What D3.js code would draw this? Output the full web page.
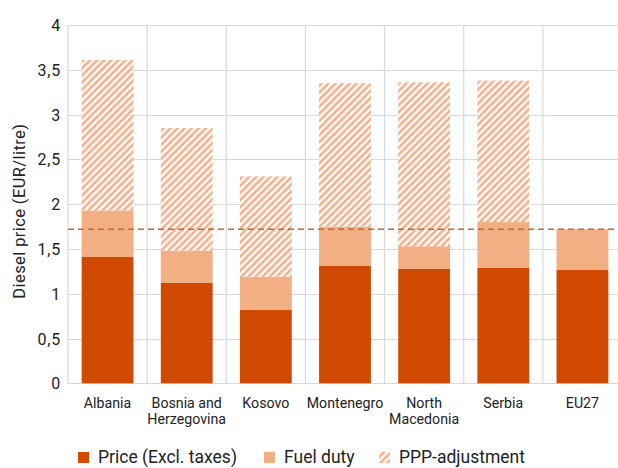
<!DOCTYPE html>
<html>
<head>
<meta charset="utf-8">
<script src="https://cdn.jsdelivr.net/npm/d3@7"></script>
<style>
  html, body { margin: 0; padding: 0; background: #fff; }
  svg { display: block; font-family: Roboto, "Noto Sans", sans-serif; }
</style>
</head>
<body>
<svg id="chart" width="618" height="468"></svg>
<script>
// Diesel price components per country (EUR/litre)
const countries = ["Albania", "Bosnia and Herzegovina", "Kosovo", "Montenegro", "North Macedonia", "Serbia", "EU27"];
const countryLines = [["Albania"], ["Bosnia and", "Herzegovina"], ["Kosovo"], ["Montenegro"], ["North", "Macedonia"], ["Serbia"], ["EU27"]];
const priceExclTaxes = [1.41, 1.12, 0.82, 1.31, 1.28, 1.29, 1.27];
const fuelDuty      = [0.52, 0.36, 0.37, 0.44, 0.25, 0.51, 0.45];
const pppAdjustment = [1.68, 1.37, 1.12, 1.60, 1.83, 1.58, 0.00];
const eu27Reference = 1.72;
const yTicks = [0, 0.5, 1, 1.5, 2, 2.5, 3, 3.5, 4];
const seriesNames = ["Price (Excl. taxes)", "Fuel duty", "PPP-adjustment"];

const colPrice = "#D04A02";
const colDuty = "#F2AF84";
const colHatch = "#F4B08A";

const svg = d3.select("#chart");
const plotLeft = 68, plotRight = 622, plotTop = 25, plotBottom = 383.3;

const x = d3.scaleBand().domain(countries).range([plotLeft, plotRight])
  .paddingInner(0.345).paddingOuter(0.1725);
const y = d3.scaleLinear().domain([0, 4]).range([plotBottom, plotTop]);

// hatch pattern for the PPP adjustment
const defs = svg.append("defs");
const pat = defs.append("pattern").attr("id", "hatch")
  .attr("patternUnits", "userSpaceOnUse").attr("width", 5).attr("height", 5)
  .attr("patternTransform", "rotate(45)");
pat.append("rect").attr("width", 5).attr("height", 5).attr("fill", "#fff");
pat.append("rect").attr("x", 0).attr("y", 0).attr("width", 2.6).attr("height", 5).attr("fill", colHatch);

// gridlines
const grid = svg.append("g");
grid.selectAll("line.h").data(yTicks).join("line")
  .attr("x1", plotLeft).attr("x2", plotRight)
  .attr("y1", d => Math.round(y(d)) + 0.5).attr("y2", d => Math.round(y(d)) + 0.5)
  .attr("stroke", "#d9d9d9").attr("stroke-width", 1.2);
const step = x.step();
const bounds = d3.range(countries.length + 1).map(i => plotLeft + i * step);
grid.selectAll("line.v").data(bounds).join("line")
  .attr("x1", d => d).attr("x2", d => d)
  .attr("y1", plotTop).attr("y2", plotBottom)
  .attr("stroke", "#d9d9d9").attr("stroke-width", 1.2);

// stacked bars
const rows = countries.map((c, i) => ({ c, p: priceExclTaxes[i], d: fuelDuty[i], a: pppAdjustment[i] }));
const stack = d3.stack().keys(["p", "d", "a"])(rows);
const fills = [colPrice, colDuty, "url(#hatch)"];
svg.append("g").selectAll("g").data(stack).join("g")
  .attr("fill", (s, k) => fills[k])
  .selectAll("rect").data(s => s).join("rect")
  .attr("x", d => x(d.data.c))
  .attr("width", x.bandwidth())
  .attr("y", d => y(d[1]))
  .attr("height", d => Math.max(0, y(d[0]) - y(d[1])));

// EU27 reference line
svg.append("line")
  .attr("x1", plotLeft).attr("x2", plotRight)
  .attr("y1", y(eu27Reference)).attr("y2", y(eu27Reference))
  .attr("stroke", "#C8672E").attr("stroke-width", 1.4)
  .attr("stroke-dasharray", "6,4");

// y-axis tick labels
const yAxis = d3.axisLeft(y).tickValues(yTicks).tickSize(0).tickPadding(0)
  .tickFormat(d => String(d).replace(".", ","));
const ya = svg.append("g").attr("transform", `translate(61,0)`).call(yAxis);
ya.select(".domain").remove();
ya.selectAll("text").attr("font-size", 16).attr("fill", "#222")
  .attr("letter-spacing", 0.8)
  .attr("font-family", "Roboto, sans-serif").attr("dy", "0.35em");

// y-axis title
svg.append("text")
  .attr("transform", `translate(25,${(plotTop + plotBottom) / 2 + 7}) rotate(-90)`)
  .attr("text-anchor", "middle").attr("font-size", 16.5).attr("fill", "#222")
  .attr("letter-spacing", 0.4)
  .text("Diesel price (EUR/litre)");

// category labels
const xl = svg.append("g");
countries.forEach((c, i) => {
  const cx = x(c) + x.bandwidth() / 2;
  countryLines[i].forEach((ln, j) => {
    xl.append("text")
      .attr("x", cx).attr("y", 408 + j * 15.5)
      .attr("text-anchor", "middle").attr("font-size", 14.2).attr("fill", "#222")
      .text(ln);
  });
});

// legend
const legendX = [78, 264, 379];
const lg = svg.append("g");
seriesNames.forEach((n, i) => {
  lg.append("rect").attr("x", legendX[i]).attr("y", 452).attr("width", 11).attr("height", 11)
    .attr("fill", fills[i]);
  lg.append("text").attr("x", legendX[i] + 20).attr("y", 463)
    .attr("font-size", 17.5).attr("fill", "#222").text(n);
});
</script>
</body>
</html>
